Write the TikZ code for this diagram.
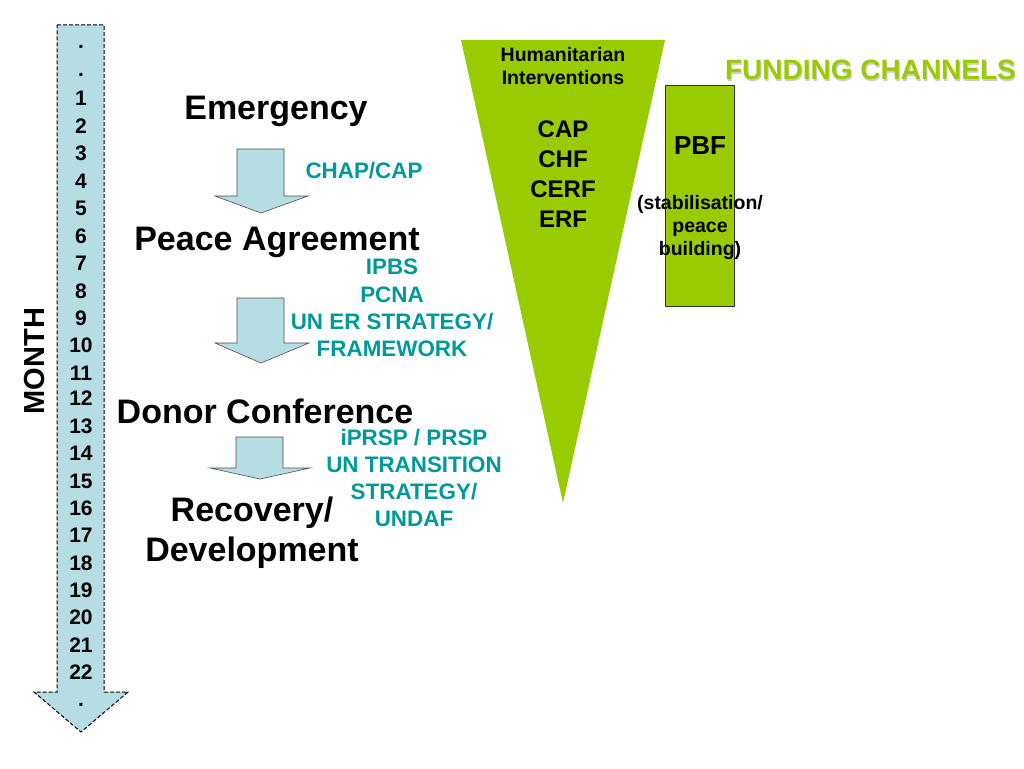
\documentclass[tikz,border=0pt]{standalone}
\usepackage{fontspec}
\setmainfont{Liberation Sans}
\definecolor{teal1}{RGB}{0,153,153}
\definecolor{lblue}{RGB}{183,221,228}
\definecolor{lgreen}{RGB}{153,204,0}
\tikzset{
  big/.style={font=\bfseries\fontsize{34}{40}\selectfont, inner sep=0pt},
  tl/.style={font=\bfseries\fontsize{22.4}{27.3}\selectfont, text=teal1, align=center, inner sep=0pt},
  num/.style={font=\bfseries\fontsize{21}{21}\selectfont, inner sep=0pt},
  blk/.style={fill=lblue, draw=black!70, line width=0.6pt},
}
\begin{document}
\begin{tikzpicture}[x=1pt,y=-1pt]
\useasboundingbox (0,0) rectangle (1024,768);
% time arrow
\draw[fill=lblue, dash pattern=on 4pt off 2pt, line width=1pt] (57,25) -- (104,25) -- (104,692) -- (128,692) -- (81,732) -- (34,692) -- (57,692) -- cycle;
\foreach \t/\y [count=\i] in {./47,./75,1/98,2/126,3/153,4/181,5/208,6/236,7/263,8/291,9/318,10/345,11/373,12/398,13/426,14/453,15/481,16/508,17/535,18/563,19/590,20/617,21/645,22/672,./705}
  \node[num] (n\i) at (81,\y) {\t};
\node[font=\bfseries\fontsize{29}{29}\selectfont, rotate=90, inner sep=0pt] (month) at (35,361) {MONTH};
% stages
\node[big] (emer) at (276,111) {Emergency};
\node[big] (peace) at (277,242) {Peace Agreement};
\node[big] (donor) at (265,411) {Donor Conference};
\node[big, align=center] (recov) at (252,533) {Recovery/\\Development};
% block arrows
\draw[blk] (237,149) -- (284,149) -- (284,196) -- (308,196) -- (261,213) -- (215,196) -- (237,196) -- cycle;
\draw[blk] (237,298) -- (284,298) -- (284,343) -- (309,343) -- (261,363) -- (215,343) -- (237,343) -- cycle;
\draw[blk] (236,437) -- (283,437) -- (283,468) -- (310,468) -- (260,479) -- (210,468) -- (236,468) -- cycle;
% teal labels
\node[tl] (chap) at (364,171) {CHAP/CAP};
\node[tl] (ipbs) at (392,308) {IPBS\\PCNA\\UN ER STRATEGY/\\FRAMEWORK};
\node[tl] (iprsp) at (414,478) {iPRSP / PRSP\\UN TRANSITION\\STRATEGY/\\UNDAF};
% funnel
\fill[lgreen] (461,40) -- (665,40) -- (563,503) -- cycle;
\node[font=\bfseries\fontsize{19.5}{23}\selectfont, align=center, inner sep=0pt] (hum) at (563,66) {Humanitarian\\Interventions};
\node[font=\bfseries\fontsize{24}{30}\selectfont, align=center, inner sep=0pt] (cap) at (563,174) {CAP\\CHF\\CERF\\ERF};
% PBF box
\draw[fill=lgreen, draw=black!80, line width=0.8pt] (665,85) rectangle (734,306);
\node[font=\bfseries\fontsize{26}{26}\selectfont, inner sep=0pt] (pbf) at (700,146) {PBF};
\node[font=\bfseries\fontsize{19.5}{23}\selectfont, align=center, inner sep=0pt] (stab) at (700,227) {(stabilisation/\\peace\\building)};
% title
\node[font=\bfseries\fontsize{28}{28}\selectfont, text=black!20, inner sep=0pt] at (871.5,71.5) {FUNDING CHANNELS};
\node[font=\bfseries\fontsize{28}{28}\selectfont, text=lgreen, inner sep=0pt] (fc) at (870.5,70) {FUNDING CHANNELS};
\end{tikzpicture}
\end{document}
